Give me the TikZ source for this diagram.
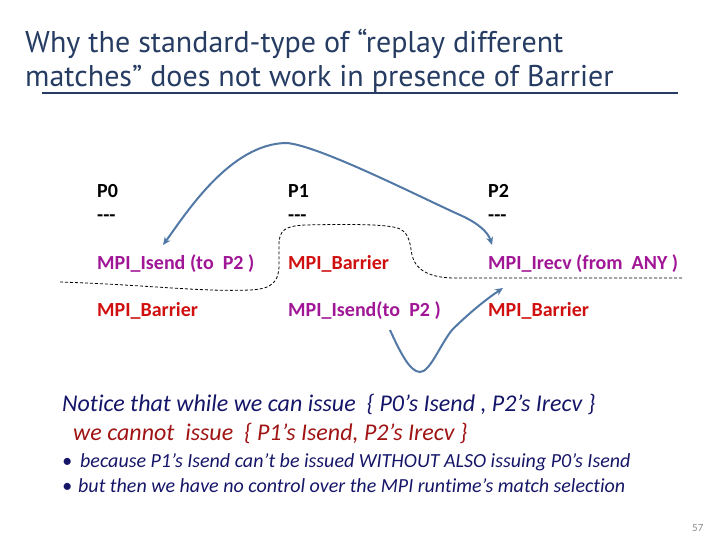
\documentclass[tikz,border=0pt]{standalone}
\usepackage{fontspec}
\setmainfont{Carlito}[Ligatures=NoCommon]
\newfontfamily\titlefont{PT Sans}
\usetikzlibrary{arrows.meta}
\definecolor{titleblue}{RGB}{38,60,98}
\definecolor{mpipurple}{RGB}{160,22,150}
\definecolor{mpired}{RGB}{208,16,16}
\definecolor{arrowblue}{RGB}{82,120,165}
\definecolor{navytext}{RGB}{22,22,105}
\definecolor{darkred}{RGB}{160,20,20}
\definecolor{pagegray}{RGB}{140,140,140}
\begin{document}
\begin{tikzpicture}[x=1pt,y=-1pt,
  lbl/.style={inner sep=0pt, anchor=base west},
  ttl/.style={lbl, text=titleblue, font=\titlefont\fontsize{30}{34}\selectfont},
  head/.style={lbl, text=black, font=\fontsize{20}{24}\selectfont\bfseries},
  callop/.style={lbl, text=mpipurple, font=\fontsize{20}{24}\selectfont\bfseries},
  barop/.style={lbl, text=mpired, font=\fontsize{20}{24}\selectfont\bfseries},
  note/.style={lbl, font=\fontsize{24}{28}\selectfont\itshape},
  bul/.style={lbl, text=navytext, font=\fontsize{20}{24}\selectfont\itshape},
  match/.style={draw=arrowblue, line width=2pt, {Stealth[length=8pt,width=7pt]}-{Stealth[length=8pt,width=7pt]}},
  sendarr/.style={draw=arrowblue, line width=2pt, -{Stealth[length=8pt,width=7pt]}},
  cut/.style={draw=black, line width=0.8pt, dash pattern=on 3pt off 2pt}
]
\useasboundingbox (0,0) rectangle (720,540);

% title
\node[ttl] (t1) at (25,53) {Why the standard-type of “replay different};
\node[ttl] (t2) at (25,87) {matches” does not work in presence of Barrier};
\coordinate (ulA) at (42,93);
\coordinate (ulB) at (678,93);
\draw[titleblue, line width=1.6pt] (ulA) -- (ulB);

% process headers
\node[head] (p0) at (97,197) {P0};
\node[head] (p1) at (288,197) {P1};
\node[head] (p2) at (488,197) {P2};
\node[head] (d0) at (97,222) {{-}{-}{-}};
\node[head] (d1) at (288,222) {{-}{-}{-}};
\node[head] (d2) at (488,222) {{-}{-}{-}};

% operations
\node[callop] (isend0) at (97,269) {MPI\_Isend (to\ \ P2 )};
\node[barop]  (bar1)   at (288,269) {MPI\_Barrier};
\node[callop] (irecv2) at (488,269) {MPI\_Irecv (from\ \ ANY )};
\node[barop]  (bar0)   at (97,316) {MPI\_Barrier};
\node[callop] (isend1) at (288,316) {MPI\_Isend(to\ \ P2 )};
\node[barop]  (bar2)   at (488,316) {MPI\_Barrier};

% dashed cut line
\coordinate (cutL) at (60,282);
\coordinate (cutR) at (683,278);
\draw[cut] (cutL) .. controls (150,285) and (200,292) .. (250,290)
  .. controls (272,289) and (279,282) .. (279,265) -- (279,245)
  .. controls (279,230) and (285,226) .. (305,225)
  .. controls (350,224) and (390,224) .. (400,229)
  .. controls (410,234) and (410,245) .. (412,255)
  .. controls (415,270) and (430,278) .. (455,278) -- (cutR);

% match arrow P0 Isend <-> P2 Irecv
\coordinate (mL) at (163,245);
\coordinate (mR) at (492,245);
\draw[match] (mL) .. controls (185,215) and (230,143) .. (287,143)
  .. controls (320,146) and (420,197) .. (460,215)
  .. controls (478,223) and (488,232) .. (mR);

% P1 Isend -> P2 Irecv
\coordinate (sA) at (390,330);
\coordinate (sB) at (503,288);
\draw[sendarr] (sA) .. controls (400,352) and (410,372) .. (420,372)
  .. controls (430,372) and (440,345) .. (452,330)
  .. controls (470,312) and (488,298) .. (sB);

% notes
\node[note, text=navytext] (n1) at (62,411) {Notice that while we can issue\ \ \{ P0’s Isend , P2’s Irecv \}};
\node[note, text=darkred] (n2) at (73,440) {we cannot\ \ issue\ \ \{ P1’s Isend, P2’s Irecv \}};
\node[bul] (b1) at (62,467) {•};
\node[bul] (b1t) at (80,467) {because P1’s Isend can’t be issued WITHOUT ALSO issuing P0’s Isend};
\node[bul] (b2) at (62,492) {•};
\node[bul] (b2t) at (78,492) {but then we have no control over the MPI runtime’s match selection};

\node[lbl, text=pagegray, font=\fontsize{11}{13}\selectfont] (pg) at (692,531) {57};
\end{tikzpicture}
\end{document}
